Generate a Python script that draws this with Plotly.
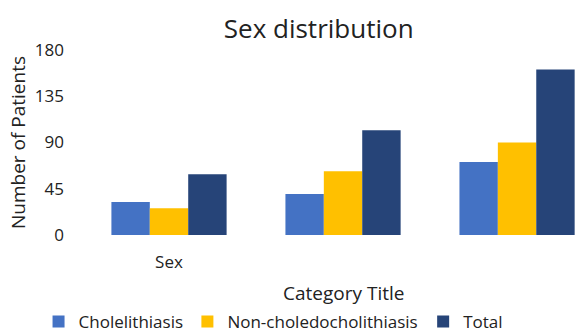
import plotly.graph_objects as go

# ---- data ----
category_labels = ["Sex", "", ""]
series_names = ["Cholelithiasis", "Non-choledocholithiasis", "Total"]
cholelithiasis = [32, 40, 71]
non_choledocholithiasis = [26, 62, 90]
total = [59, 102, 161]
y_ticks = [0, 45, 90, 135, 180]

colors = ["#4472C4", "#FFC000", "#264478"]
FONT = "Open Sans"
TXT = "#222222"

x_pos = list(range(len(category_labels)))
series_values = [cholelithiasis, non_choledocholithiasis, total]
legend_ids = ["legend", "legend2", "legend3"]

fig = go.Figure()
for name, vals, col, lg in zip(series_names, series_values, colors, legend_ids):
    fig.add_trace(go.Bar(
        x=x_pos, y=vals, name=name, marker_color=col,
        marker_line_width=0, legend=lg, showlegend=True,
    ))

# plot area geometry (px)
L, R, T, B = 81.5, 0, 49.5, 99.5
W, H = 575, 335
pw = W - L - R
ph = H - T - B

def px_x(px):
    return (px - L) / pw

def px_y(py):
    return (H - B - py) / ph

leg_common = dict(orientation="h", font=dict(family=FONT, size=17, color=TXT),
                  bgcolor="rgba(0,0,0,0)", yanchor="middle", xanchor="left",
                  y=px_y(323), tracegroupgap=0, visible=True)

fig.update_layout(
    width=W, height=H,
    margin=dict(l=L, r=R, t=T, b=B, pad=0, autoexpand=False),
    paper_bgcolor="white", plot_bgcolor="white",
    showlegend=True,
    barmode="group", bargap=0.338, bargroupgap=0,
    title=dict(text="Sex distribution", font=dict(family=FONT, size=26, color=TXT),
               xref="container", x=318.7 / W, xanchor="center",
               yref="container", y=1 - 29 / H, yanchor="middle"),
    xaxis=dict(
        tickmode="array", tickvals=x_pos, ticktext=category_labels,
        range=[-0.5, 2.333], showgrid=False, zeroline=False, showline=False,
        ticks="", tickfont=dict(family=FONT, size=17, color=TXT),
        ticklabelstandoff=15, automargin=False,
    ),
    yaxis=dict(
        range=[0, 180], tickmode="array", tickvals=y_ticks,
        showgrid=False, zeroline=False, showline=False, ticks="",
        tickfont=dict(family=FONT, size=17, color=TXT),
        ticklabelstandoff=17, automargin=False,
        title=dict(text="Number of Patients", font=dict(family=FONT, size=19, color=TXT),
                   standoff=4),
    ),
    legend=dict(leg_common, x=px_x(38)),
    legend2=dict(leg_common, x=px_x(187)),
    legend3=dict(leg_common, x=px_x(423)),
    annotations=[dict(
        text="Category Title", xref="x", x=1, yref="paper", y=px_y(294),
        xanchor="center", yanchor="middle", showarrow=False,
        font=dict(family=FONT, size=19, color=TXT),
    )],
)

fig.write_html("out.html")
